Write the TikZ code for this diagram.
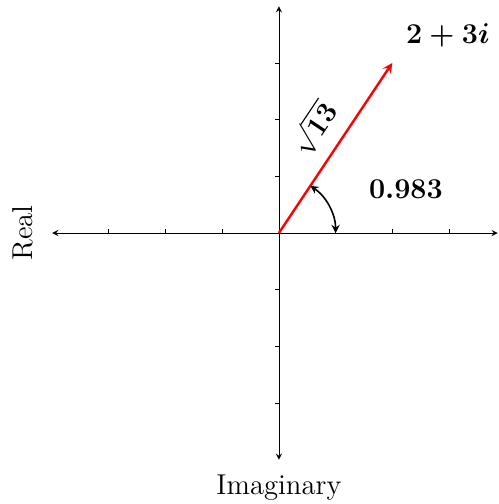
\documentclass[tikz,border=0pt]{standalone}
\usetikzlibrary{arrows}

\begin{document}
\begin{tikzpicture}
                [
                axis/.style={<->,>=stealth},
                vec/.style={->,>=stealth,red,very thick},
                angarc/.style={<->,>=stealth,thick},
                lbl/.style={font=\Large},
                ]
                \useasboundingbox (-4.92,-4.78) rectangle (3.88,4.11);
                \coordinate (O) at (0,0);
                \coordinate (W) at (-4,0);
                \coordinate (E) at (3.86,0);
                \coordinate (S) at (0,-4);
                \coordinate (N) at (0,4);
                \coordinate (Z) at (2,3);
                \coordinate (A) at (1,0);
                \draw[axis] (W) -- (E);
                \draw[axis] (S) -- (N);
                \foreach \k in {-3,-2,-1,1,2,3}{
                    \draw (\k,0) -- (\k,0.07);
                    \draw (0,\k) -- (-0.07,\k);
                }
                \draw[vec] (O) -- node[lbl,text=black,above=3pt,sloped,pos=0.52] (rootlbl) {$\sqrt{\mathbf{13}}$} (Z);
                \draw[angarc] (A) arc[start angle=0,end angle=56.31,radius=1];
                \node[lbl] (zval) at (2.98,3.49) {{\boldmath $2+3i$}};
                \node[lbl] (angval) at (2.24,0.78) {{\boldmath $0.983$}};
                \node[lbl,rotate=90] (realtxt) at (-4.52,0) {Real};
                \node[lbl] (imagtxt) at (0,-4.5) {Imaginary};
            \end{tikzpicture}
\end{document}
